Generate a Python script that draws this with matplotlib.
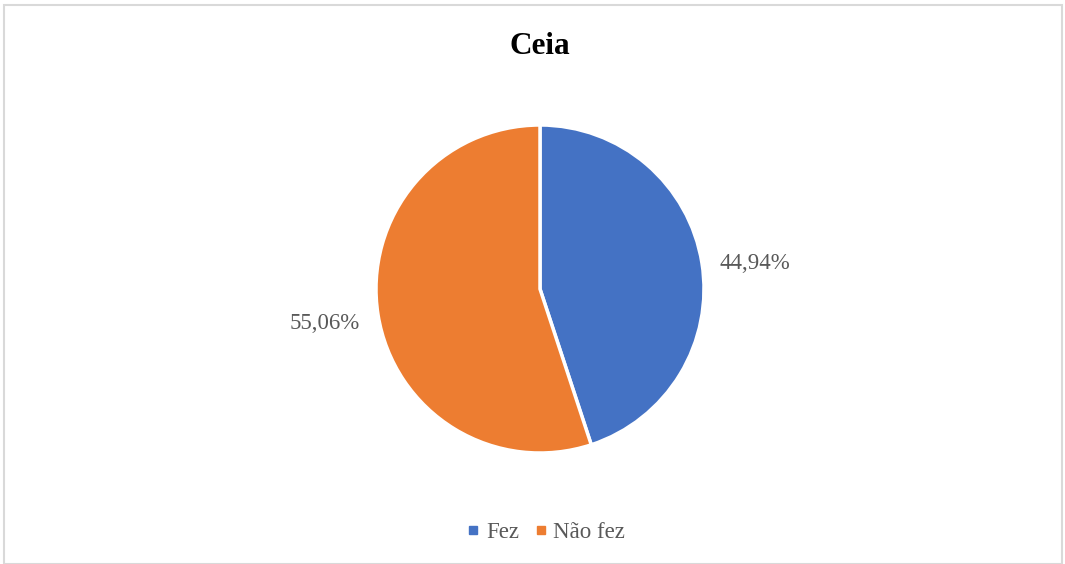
import matplotlib.pyplot as plt
from matplotlib.lines import Line2D
from matplotlib.patches import Rectangle

# dados
categorias = ['Fez', 'Não fez']
valores = [44.94, 55.06]
cores = ['#4472C4', '#ED7D31']

plt.rcParams['font.family'] = ['Liberation Serif', 'DejaVu Serif']

fig = plt.figure(figsize=(10.65, 5.64), dpi=100)
W, H = 1065, 564

# borda do gráfico
fig.patches.append(Rectangle((4 / W, 0), (1062 - 4) / W, 1 - 5 / H, transform=fig.transFigure,
                             fill=False, edgecolor='#d9d9d9', lw=1.5))

cx, cy, r = 540, 289, 164
ax = fig.add_axes([(cx - r) / W, (H - cy - r) / H, 2 * r / W, 2 * r / H])

wedges, textos, pcts = ax.pie(valores, colors=cores, startangle=90, counterclock=False,
                              autopct=lambda p: f'{p:.2f}%'.replace('.', ','),
                              pctdistance=1.33,
                              wedgeprops=dict(edgecolor='white', linewidth=2.5))
for t in pcts:
    t.set_fontsize(16.5)
    t.set_color('#595959')
# rótulo do "Fez" um pouco mais abaixo, como no original
x0, y0 = pcts[0].get_position()
pcts[0].set_position((x0, y0 - 0.055))
ax.set_xlim(-1, 1)
ax.set_ylim(-1, 1)
ax.set_aspect('equal')

fig.text(540 / W, 1 - 46 / H, 'Ceia', ha='center', va='center', fontsize=22.5,
         fontweight='bold', color='black')

handles = [Line2D([], [], marker='s', ls='', color=c, markersize=6) for c in cores]
leg = fig.legend(handles, categorias, loc='center', bbox_to_anchor=(544 / W, 1 - 532 / H),
                 ncol=2, frameon=False, fontsize=16.5, handletextpad=0.1, columnspacing=0.5,
                 handlelength=0.9)
for t in leg.get_texts():
    t.set_color('#595959')

fig.savefig('out.png', dpi=100)
